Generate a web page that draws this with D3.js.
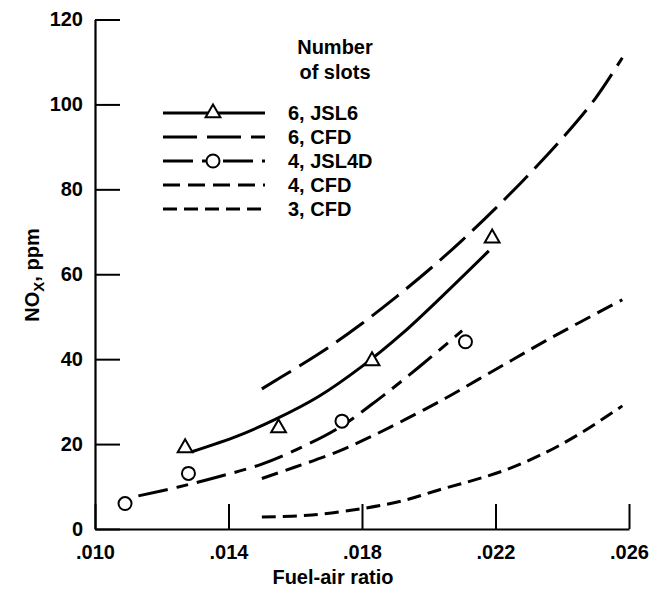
<!DOCTYPE html>
<html><head><meta charset="utf-8">
<script src="https://cdn.jsdelivr.net/npm/d3@7"></script>
<style>
body{margin:0;background:#fff}
text{font-family:"Liberation Sans",Arial,Helvetica,sans-serif;font-weight:bold;fill:#000}
</style>
</head><body>
<svg id="chart" width="660" height="592"></svg>
<script>
// ---- data ----
const xTickValues = [0.010, 0.014, 0.018, 0.022, 0.026];
const yTickValues = [0, 20, 40, 60, 80, 100, 120];

// measured points
const jsl6Fuel = [0.0127, 0.0155, 0.0183, 0.0219];
const jsl6Nox  = [19.1, 23.8, 39.6, 68.5];
const jsl4dFuel = [0.0109, 0.0128, 0.0174, 0.0211];
const jsl4dNox  = [6.0, 13.1, 25.4, 44.1];

// curves
const jsl6LineFuel = [0.0129, 0.0143, 0.0154, 0.0167, 0.0180, 0.0192, 0.0204, 0.0218];
const jsl6LineNox  = [18.2, 22.0, 25.8, 31.2, 38.3, 46.0, 54.8, 65.5];
const cfd6Fuel = [0.0150, 0.0160, 0.0170, 0.0180, 0.0190, 0.0200, 0.0210, 0.0220, 0.0230, 0.0240, 0.0250, 0.0258];
const cfd6Nox  = [33.0, 37.8, 42.8, 48.4, 54.5, 61.0, 68.0, 75.5, 83.5, 92.0, 101.5, 111.0];
const jsl4dLineFuel = [0.0113, 0.0125, 0.0137, 0.0150, 0.0162, 0.0173, 0.0185, 0.0197, 0.0210];
const jsl4dLineNox  = [7.8, 9.9, 12.3, 15.3, 19.3, 23.8, 30.6, 38.1, 46.7];
const cfd4Fuel = [0.0150, 0.0160, 0.0172, 0.0182, 0.0193, 0.0205, 0.0215, 0.0225, 0.0235, 0.0246, 0.0258];
const cfd4Nox  = [11.9, 14.6, 18.0, 21.5, 25.8, 30.8, 35.3, 39.8, 44.3, 49.0, 54.0];
const cfd3Fuel = [0.0150, 0.0165, 0.0180, 0.0192, 0.0203, 0.0213, 0.0223, 0.0235, 0.0246, 0.0258];
const cfd3Nox  = [2.8, 3.3, 4.8, 6.6, 9.2, 11.4, 13.9, 18.0, 22.8, 29.0];

const legendLabels = ["6, JSL6", "6, CFD", "4, JSL4D", "4, CFD", "3, CFD"];

// ---- chart ----
const svg = d3.select("#chart");
const x = d3.scaleLinear().domain([0.010, 0.026]).range([95, 629]);
const y = d3.scaleLinear().domain([0, 120]).range([529, 19.5]);

const fmtX = d => d3.format(".3f")(d).replace(/^0/, "");

const xAxis = svg.append("g").attr("transform", "translate(0,529)")
  .call(d3.axisBottom(x).tickValues(xTickValues).tickFormat(fmtX)
    .tickSizeInner(-25).tickSizeOuter(0).tickPadding(16));
const yAxis = svg.append("g").attr("transform", "translate(95,0)")
  .call(d3.axisLeft(y).tickValues(yTickValues)
    .tickSizeInner(-25).tickSizeOuter(0).tickPadding(12));
[xAxis, yAxis].forEach(a => {
  a.select(".domain").attr("stroke", "#000").attr("stroke-width", 2.2);
  a.selectAll(".tick line").attr("stroke", "#000").attr("stroke-width", 2);
  a.selectAll(".tick text").style("font-size", "20px").attr("fill", "#000");
});

svg.append("text").attr("x", 333).attr("y", 584).attr("text-anchor", "middle")
  .style("font-size", "20px").text("Fuel-air ratio");

const yt = svg.append("text").attr("transform", "translate(39,275) rotate(-90)")
  .attr("text-anchor", "middle").style("font-size", "20px");
yt.append("tspan").text("NO");
yt.append("tspan").attr("dy", 5).style("font-size", "15px").text("X");
yt.append("tspan").attr("dy", -5).text(", ppm");

const zip = (a, b) => a.map((v, i) => [v, b[i]]);
const line = d3.line().x(d => x(d[0])).y(d => y(d[1])).curve(d3.curveCatmullRom.alpha(0.5));

const series = [
  {pts: zip(jsl6LineFuel, jsl6LineNox), dash: null},
  {pts: zip(cfd6Fuel, cfd6Nox), dash: "34,10"},
  {pts: zip(jsl4dLineFuel, jsl4dLineNox), dash: "30,9,12,9"},
  {pts: zip(cfd4Fuel, cfd4Nox), dash: "17,8"},
  {pts: zip(cfd3Fuel, cfd3Nox), dash: "14,7"}
];
series.forEach(s => {
  svg.append("path").datum(s.pts).attr("d", line)
    .attr("fill", "none").attr("stroke", "#000").attr("stroke-width", 3)
    .attr("stroke-dasharray", s.dash);
});

const tri = d3.symbol().type(d3.symbolTriangle).size(95);
svg.selectAll(".tri").data(zip(jsl6Fuel, jsl6Nox)).join("path")
  .attr("transform", d => `translate(${x(d[0])},${y(d[1])})`)
  .attr("d", tri).attr("fill", "#fff").attr("stroke", "#000").attr("stroke-width", 2);
svg.selectAll(".circ").data(zip(jsl4dFuel, jsl4dNox)).join("circle")
  .attr("cx", d => x(d[0])).attr("cy", d => y(d[1])).attr("r", 6.5)
  .attr("fill", "#fff").attr("stroke", "#000").attr("stroke-width", 2);

// ---- legend ----
svg.append("text").attr("x", 335).attr("y", 54).attr("text-anchor", "middle")
  .style("font-size", "20px").text("Number");
svg.append("text").attr("x", 335).attr("y", 79).attr("text-anchor", "middle")
  .style("font-size", "20px").text("of slots");
const lg = svg.append("g");
legendLabels.forEach((lab, i) => {
  const yy = 113 + 24 * i;
  lg.append("line").attr("x1", 163).attr("x2", 265).attr("y1", yy).attr("y2", yy)
    .attr("stroke", "#000").attr("stroke-width", 3)
    .attr("stroke-dasharray", series[i].dash);
  lg.append("text").attr("x", 288).attr("y", yy).attr("dy", "0.36em")
    .style("font-size", "20px").text(lab);
  if (i === 0) lg.append("path").attr("transform", `translate(213,${yy})`).attr("d", tri)
    .attr("fill", "#fff").attr("stroke", "#000").attr("stroke-width", 2);
  if (i === 2) lg.append("circle").attr("cx", 213).attr("cy", yy).attr("r", 6.5)
    .attr("fill", "#fff").attr("stroke", "#000").attr("stroke-width", 2);
});
</script>
</body></html>
